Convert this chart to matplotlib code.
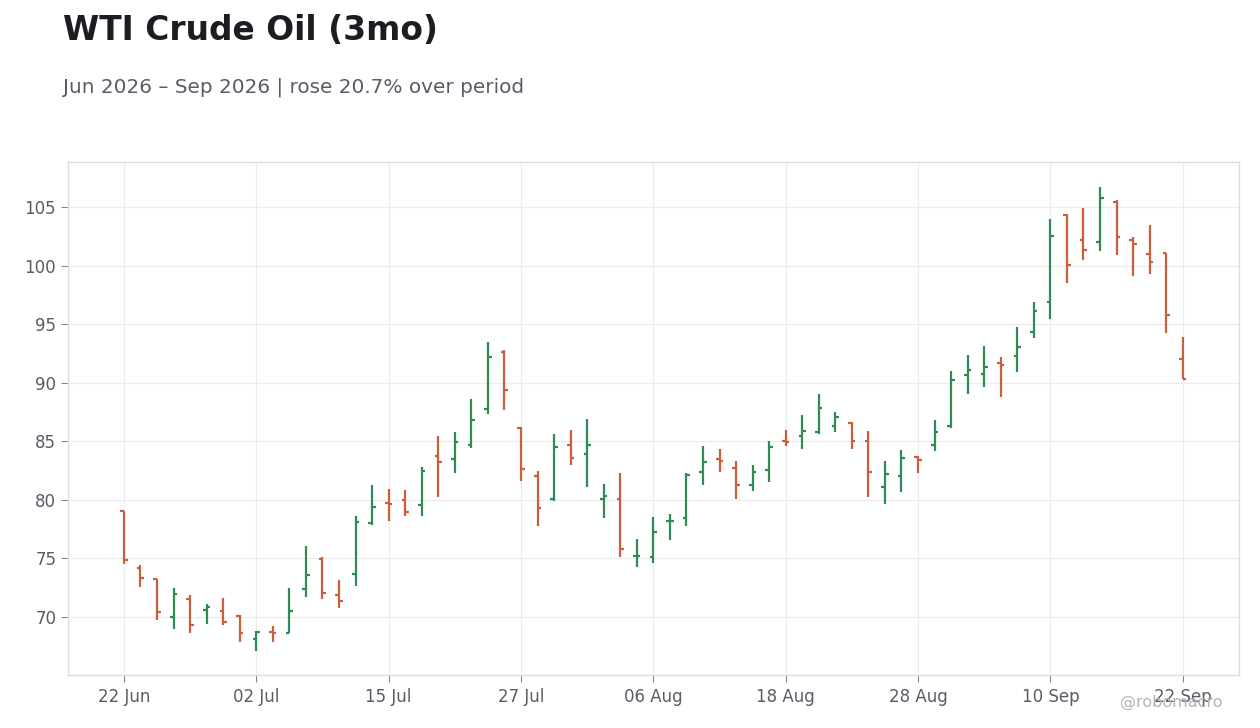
import numpy as np
import pandas as pd
import matplotlib
matplotlib.use("Agg")
import matplotlib.pyplot as plt

# daily OHLC, one row per US trading day from 22 Jun 2026
opens = [79.06, 74.17, 73.23, 69.97, 71.51, 70.57, 70.49, 70.06, 68.09, 68.69,
         68.60, 72.43, 74.97, 71.90, 73.69, 78.04, 79.74, 80.00, 79.57, 83.75,
         83.49, 84.69, 87.76, 92.61, 86.14, 82.05, 80.06, 84.69, 83.92, 80.06,
         80.06, 75.20, 75.14, 78.18, 78.47, 82.41, 83.52, 82.76, 81.31, 82.59,
         85.06, 85.48, 85.82, 86.34, 86.59, 85.06, 81.12, 82.05, 83.66, 84.69,
         86.28, 90.65, 90.74, 91.68, 92.27, 94.32, 96.88, 104.35, 102.22, 102.05,
         105.45, 102.22, 101.03, 101.06, 92.03]
highs = [79.06, 74.46, 73.26, 72.49, 71.91, 71.14, 71.66, 70.20, 68.83, 69.26,
         72.51, 76.08, 75.09, 73.15, 78.61, 81.25, 80.91, 80.82, 82.78, 85.43,
         85.77, 88.58, 93.52, 92.84, 86.22, 82.44, 85.60, 85.94, 86.88, 81.34,
         82.33, 76.70, 78.52, 78.78, 82.33, 84.60, 84.35, 83.32, 82.98, 85.03,
         85.97, 87.24, 89.03, 87.50, 86.62, 85.88, 83.31, 84.23, 83.78, 86.79,
         90.97, 92.33, 93.18, 92.16, 94.72, 96.93, 104.00, 104.40, 104.92, 106.70,
         105.57, 102.42, 103.47, 101.09, 93.87]
lows = [74.54, 72.57, 69.71, 68.94, 68.60, 69.37, 69.29, 67.91, 67.06, 67.83,
        68.60, 71.75, 71.50, 70.80, 72.67, 77.87, 78.21, 78.64, 78.64, 80.26,
        82.30, 84.43, 87.33, 87.67, 81.62, 77.78, 79.91, 82.98, 81.11, 78.47,
        75.14, 74.29, 74.63, 76.59, 77.78, 81.31, 82.41, 80.11, 80.80, 81.56,
        84.63, 84.38, 85.65, 85.82, 84.38, 80.28, 79.69, 80.65, 82.30, 84.18,
        86.11, 89.03, 89.63, 88.78, 90.91, 93.81, 95.43, 98.49, 100.52, 101.23,
        100.95, 99.08, 99.25, 94.23, 90.30]
closes = [74.86, 73.31, 70.40, 71.94, 69.29, 70.83, 69.54, 68.60, 68.69, 68.60,
          70.51, 73.55, 72.05, 71.39, 78.13, 79.40, 79.66, 78.98, 82.47, 83.24,
          84.94, 86.82, 92.19, 89.35, 82.64, 79.32, 84.52, 83.58, 84.69, 80.34,
          75.82, 75.25, 77.27, 78.22, 82.15, 83.27, 83.35, 81.31, 82.41, 84.55,
          84.94, 85.91, 87.87, 87.10, 85.06, 82.41, 82.22, 83.58, 83.41, 85.80,
          90.20, 91.08, 91.34, 91.51, 93.04, 96.11, 102.49, 100.09, 101.37, 105.79,
          102.48, 101.88, 100.35, 95.82, 90.30]

holidays = ["2026-07-03", "2026-09-07"]
dates = pd.bdate_range("2026-06-22", periods=len(opens), freq="C", holidays=holidays)
tick_idx = list(range(0, len(dates), 8))
tick_labels = [dates[i].strftime("%d %b") for i in tick_idx]

UP = "#2e8a57"
DOWN = "#c95f3c"
TEXT = "#5a5b66"

fig = plt.figure(figsize=(12.6, 7.28), dpi=100)
ax = fig.add_axes([0.054, 0.0728, 0.9293, 0.7047])

x = np.arange(len(opens))
o = np.array(opens)
h = np.array(highs)
l = np.array(lows)
c = np.array(closes)
cols = [UP if cc >= oo else DOWN for oo, cc in zip(o, c)]

w = 0.22
ax.vlines(x, l, h, colors=cols, linewidth=1.6, zorder=3)
ax.hlines(o, x - w, x, colors=cols, linewidth=1.6, zorder=3)
ax.hlines(c, x, x + w, colors=cols, linewidth=1.6, zorder=3)

ax.set_xlim(-3.38, 67.4)
ax.set_ylim(65.05, 108.85)
ax.set_xticks(tick_idx)
ax.set_xticklabels(tick_labels)
ax.set_yticks([70, 75, 80, 85, 90, 95, 100, 105])

ax.grid(True, color="#ececec", linewidth=0.8, zorder=0)
for s in ax.spines.values():
    s.set_color("#dddddd")
    s.set_linewidth(1)
ax.tick_params(axis="both", colors="#888888", labelcolor=TEXT, labelsize=12,
               length=5, width=0.8)
ax.tick_params(axis="x", pad=4)

fig.text(0.05, 0.945, "WTI Crude Oil (3mo)", fontsize=23.7, fontweight="bold",
         color="#1c1c22", va="baseline")
fig.text(0.05, 0.873, "Jun 2026 \u2013 Sep 2026 | rose 20.7% over period",
         fontsize=14.4, color=TEXT, va="baseline")
fig.text(0.97, 0.035, "@robomacro", fontsize=11.5, color="#b4b4b8",
         ha="right", va="center")

fig.savefig("out.png", dpi=100)
